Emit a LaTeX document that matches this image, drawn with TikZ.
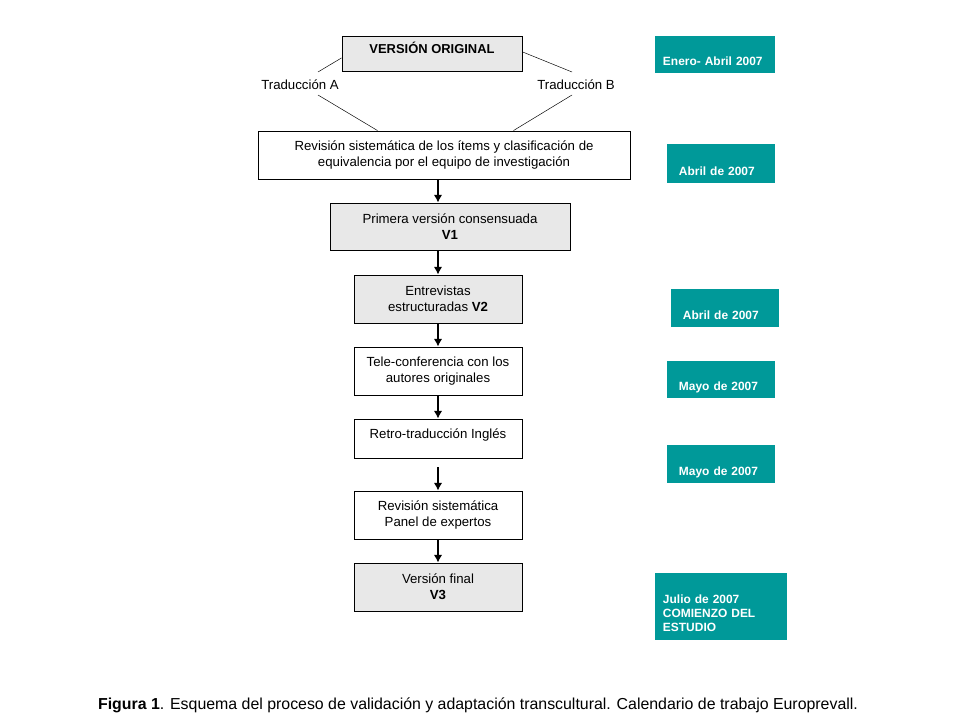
\documentclass[tikz,border=0pt]{standalone}
\usepackage{fontspec}
\setmainfont{Liberation Sans}
\usepackage{tikz}
\usetikzlibrary{arrows}
\usetikzlibrary{arrows.meta}
\definecolor{boxgray}{RGB}{232,232,232}
\definecolor{dateteal}{RGB}{0,153,153}
\tikzset{
font={\fontsize{9.4pt}{11.3pt}\selectfont}}

\begin{document}
\begin{tikzpicture}[x=0.025cm, y=-0.025cm,
    stage/.style={draw=black, line width=0.2mm, align=center, inner sep=0pt},
    datebox/.style={fill=dateteal, text=white, align=left, inner ysep=0pt, text depth=0.18cm,
      font={\fontsize{8.5pt}{10.3pt}\selectfont\bfseries}},
    flow/.style={line width=0.6mm, arrows={-{Latex[length=1.9mm,width=2.1mm]}}},
    branch/.style={line width=0.12mm}]
    % Frame
    \useasboundingbox (0, 0) rectangle (960, 720);

    % Original version
    \node [stage, fill=boxgray, minimum width=4.5cm, minimum height=0.875cm, text height=2mm, text depth=2mm,
      font={\fontsize{9.2pt}{11.3pt}\selectfont\bfseries}] (orig) at (432, 53.5) {VERSIÓN ORIGINAL};
    % Translation labels
    \node (tradA) at (300, 85) {Traducción A};
    \node (tradB) at (576, 85) {Traducción B};
    % Systematic review
    \node [stage, minimum width=9.3cm, minimum height=1.2cm] (rev) at (444, 155)
      {Revisión sistemática de los ítems y clasificación de\\equivalencia por el equipo de investigación};

    % Translation branches
    \coordinate (ta1) at (318, 72);
    \coordinate (ta2) at (318, 95);
    \coordinate (tb1) at (572, 72);
    \coordinate (tb2) at (572, 95);
    \draw [branch] ([yshift=-0.11cm]orig.west) -- (ta1);
    \draw [branch] ([yshift=0.04cm]orig.east) -- (tb1);
    \draw [branch] (ta2) -- ([xshift=3cm]rev.north west);
    \draw [branch] (tb2) -- ([xshift=-2.925cm]rev.north east);

    % Consensus version V1
    \node [stage, fill=boxgray, minimum width=6cm, minimum height=1.175cm] (v1) at (450, 226.5)
      {Primera versión consensuada\\\textbf{V1}};
    % Interviews V2
    \node [stage, fill=boxgray, minimum width=4.2cm, minimum height=1.2cm] (v2) at (438, 299)
      {Entrevistas\\estructuradas \textbf{V2}};
    % Teleconference
    \node [stage, minimum width=4.2cm, minimum height=1.2cm] (tele) at (438, 371)
      {Tele-conferencia con los\\autores originales};
    % Back translation
    \node [stage, minimum width=4.2cm, minimum height=0.975cm, text height=2mm, text depth=2mm] (retro) at (438, 438.5)
      {Retro-traducción Inglés};
    % Expert panel
    \node [stage, minimum width=4.2cm, minimum height=1.2cm] (panel) at (438, 515)
      {Revisión sistemática\\Panel de expertos};
    % Final version V3
    \node [stage, fill=boxgray, minimum width=4.2cm, minimum height=1.2cm] (v3) at (438, 587)
      {Versión final\\\textbf{V3}};

    % Flow arrows
    \draw [flow] (rev.south -| v2) -- (v1.north -| v2);
    \draw [flow] (v1.south -| v2) -- (v2.north);
    \draw [flow] (v2.south) -- (tele.north);
    \draw [flow] (tele.south) -- (retro.north);
    \draw [flow] ([yshift=-0.225cm]retro.south) -- (panel.north);
    \draw [flow] (panel.south) -- (v3.north);

    % Calendar
    \node [datebox, inner xsep=0.2cm, text width=2.6cm, text height=0.745cm] (d1) at (715, 54.5) {Enero- Abril 2007};
    \node [datebox, inner xsep=0.3cm, text width=2.1cm, text height=0.795cm] (d2) at (721, 163.5) {Abril de 2007};
    \node [datebox, inner xsep=0.3cm, text width=2.1cm, text height=0.77cm] (d3) at (725, 308) {Abril de 2007};
    \node [datebox, inner xsep=0.3cm, text width=2.1cm, text height=0.745cm] (d4) at (721, 379.5) {Mayo de 2007};
    \node [datebox, inner xsep=0.3cm, text width=2.1cm, text height=0.77cm] (d5) at (721, 464) {Mayo de 2007};
    \node [datebox, inner xsep=0.2cm, text width=2.9cm, text height=0.75cm, text depth=0.925cm] (d6) at (721, 606.5)
      {Julio de 2007\\COMIENZO DEL\\ESTUDIO};

    % Caption
    \node [font={\fontsize{11.3pt}{13pt}\selectfont}] (caption) at (478, 705)
      {\textbf{Figura 1}. Esquema del proceso de validación y adaptación transcultural. Calendario de trabajo Europrevall.};
\end{tikzpicture}
\end{document}
